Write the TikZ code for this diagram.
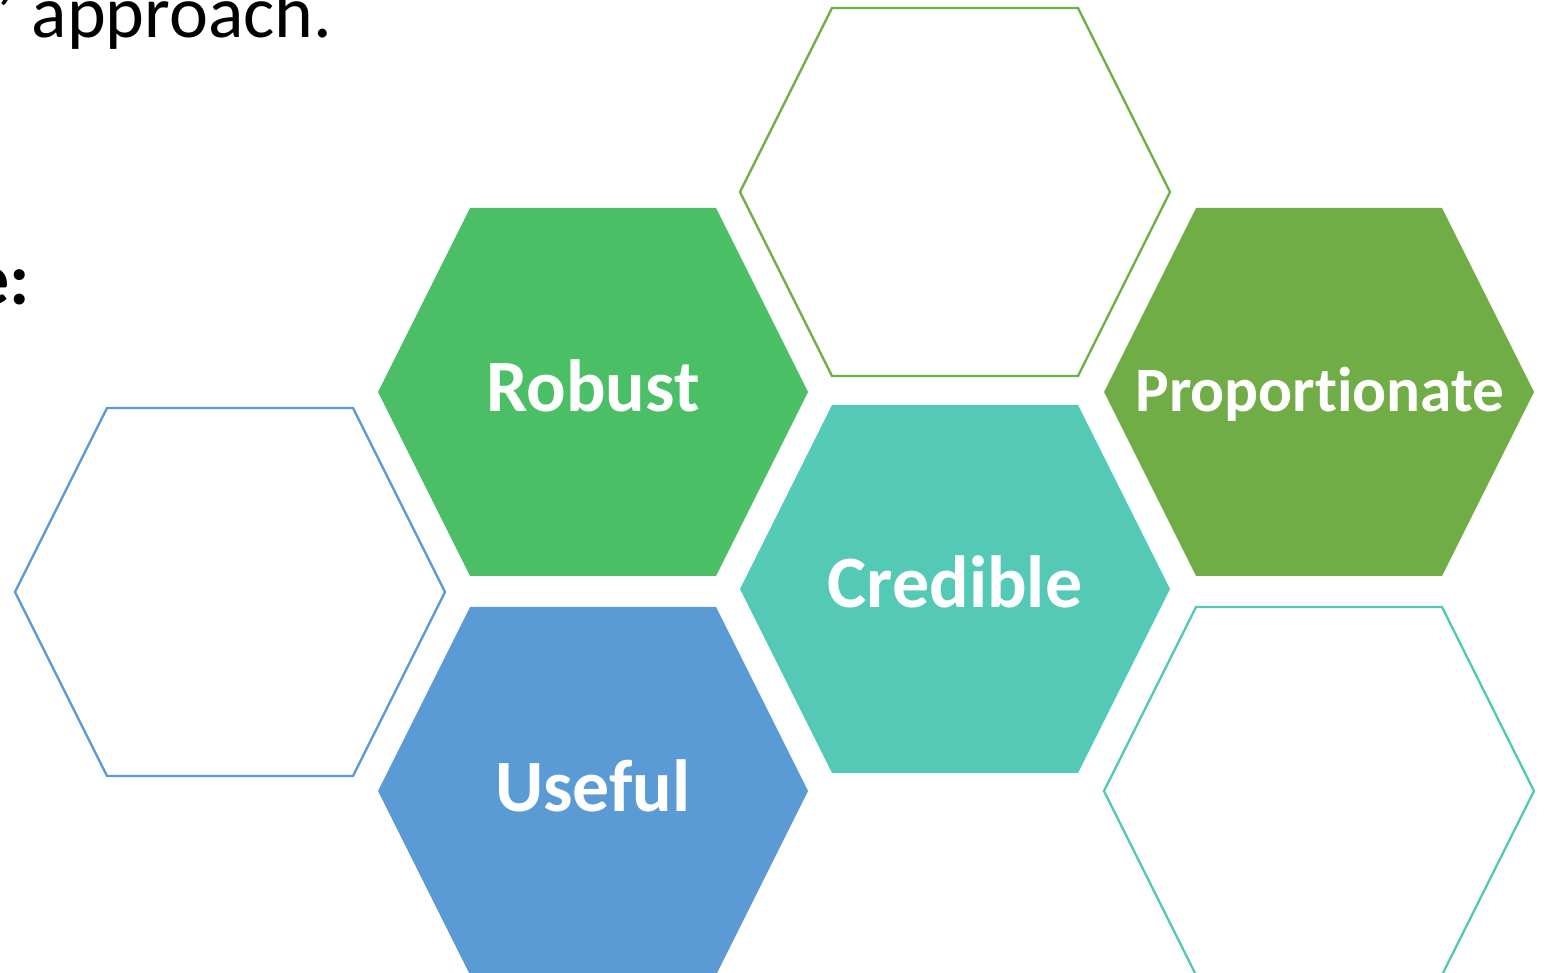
\documentclass[tikz,border=0pt]{standalone}
\usepackage{fontspec}
\setmainfont{Carlito}[Ligatures=NoCommon]
\definecolor{robustgreen}{HTML}{4BBF65}
\definecolor{propgreen}{HTML}{70AD47}
\definecolor{credteal}{HTML}{54C9B6}
\definecolor{usefulblue}{HTML}{5B9BD5}
\tikzset{
  hexa/.pic={\path[pic actions] (-215,0)--(-123,-184)--(123,-184)--(215,0)--(123,184)--(-123,184)--cycle;},
  hexlabel/.style={text=white,inner sep=0pt,anchor=base,font=\bfseries\fontsize{21}{25}\selectfont},
  hexline/.style={line width=0.65pt,fill=white},
}
\begin{document}
\begin{tikzpicture}[x=0.01cm,y=-0.01cm]
\useasboundingbox (0,0) rectangle (1544,973);
% slide text, cut at the left edge
\node[inner sep=0pt,anchor=base east,font=\fontsize{21}{25}\selectfont] (approach) at (333,38) {’ approach.};
\node[inner sep=0pt,anchor=base east,font=\bfseries\fontsize{21}{25}\selectfont] (colon) at (31,305) {e:};
% empty hexagons
\pic[hexline,draw=propgreen] at (955,192) {hexa};
\pic[hexline,draw=usefulblue] at (230,592) {hexa};
\pic[hexline,draw=credteal] at (1319,791) {hexa};
% filled hexagons
\pic[fill=robustgreen] at (593,392) {hexa};
\pic[fill=propgreen] at (1319,392) {hexa};
\pic[fill=credteal] at (955,589) {hexa};
\pic[fill=usefulblue] at (593,791) {hexa};
\node[hexlabel] (robust) at (593,412) {Robust};
\node[hexlabel,font=\bfseries\fontsize{18}{22}\selectfont] (prop) at (1320,412) {Proportionate};
\node[hexlabel] (credible) at (955,608) {Credible};
\node[hexlabel] (useful) at (593,811) {Useful};
\end{tikzpicture}
\end{document}
